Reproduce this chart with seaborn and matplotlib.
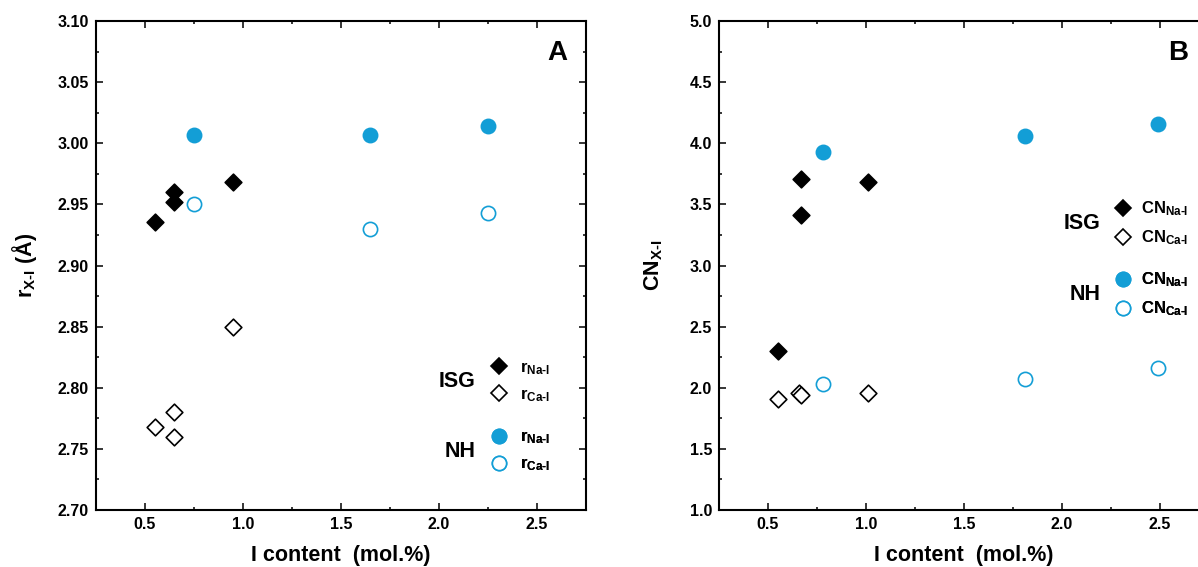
import pandas as pd
import matplotlib
matplotlib.use('Agg')
import matplotlib.pyplot as plt
from matplotlib.lines import Line2D
from matplotlib.ticker import MultipleLocator, FormatStrFormatter
import seaborn as sns

# Panel A: X-I distances (Angstrom) vs I content (mol.%)
isg_x_a = [0.55, 0.65, 0.65, 0.95]
isg_na_r = [2.936, 2.960, 2.952, 2.968]
isg_ca_x_a = [0.55, 0.65, 0.65, 0.95]
isg_ca_r = [2.768, 2.780, 2.760, 2.850]
nh_x_a = [0.75, 1.65, 2.25]
nh_na_r = [3.007, 3.007, 3.014]
nh_ca_r = [2.950, 2.930, 2.943]

# Panel B: coordination numbers
isg_x_b = [0.55, 0.67, 0.67, 1.01]
isg_na_cn = [2.30, 3.71, 3.41, 3.68]
isg_ca_x_b = [0.55, 0.66, 0.67, 1.01]
isg_ca_cn = [1.91, 1.96, 1.94, 1.96]
nh_x_b = [0.78, 1.81, 2.49]
nh_na_cn = [3.93, 4.06, 4.16]
nh_ca_cn = [2.03, 2.07, 2.16]

BLUE = '#139ed6'

sns.set_theme(style='ticks')
plt.rcParams['font.family'] = ['Liberation Sans', 'DejaVu Sans']
plt.rcParams['font.weight'] = 'bold'
plt.rcParams['mathtext.fontset'] = 'custom'
plt.rcParams['mathtext.rm'] = 'Liberation Sans:bold'
plt.rcParams['mathtext.it'] = 'Liberation Sans:bold'
plt.rcParams['mathtext.bf'] = 'Liberation Sans:bold'
for key in ('text.color', 'axes.labelcolor', 'xtick.color', 'ytick.color', 'axes.edgecolor'):
    plt.rcParams[key] = 'black'

fig = plt.figure(figsize=(11.98, 5.67), dpi=100)
ax_a = fig.add_axes([0.0801, 0.1005, 0.409, 0.8624])
ax_b = fig.add_axes([0.6002, 0.1005, 0.409, 0.8624])

DS = 72   # diamond size
CS = 105  # circle size


def draw(ax, series):
    for x, y, marker, face, edge, size in series:
        sns.scatterplot(x=x, y=y, ax=ax, marker=marker, s=size,
                        color=face, edgecolor=edge, linewidth=1.2, zorder=3)


draw(ax_a, [
    (isg_x_a, isg_na_r, 'D', 'black', 'black', DS),
    (isg_ca_x_a, isg_ca_r, 'D', 'white', 'black', DS),
    (nh_x_a, nh_na_r, 'o', BLUE, BLUE, CS),
    (nh_x_a, nh_ca_r, 'o', 'white', BLUE, CS),
])
draw(ax_b, [
    (isg_x_b, isg_na_cn, 'D', 'black', 'black', DS),
    (isg_ca_x_b, isg_ca_cn, 'D', 'white', 'black', DS),
    (nh_x_b, nh_na_cn, 'o', BLUE, BLUE, CS),
    (nh_x_b, nh_ca_cn, 'o', 'white', BLUE, CS),
])

ax_a.set_ylim(2.70, 3.10)
ax_a.yaxis.set_major_locator(MultipleLocator(0.05))
ax_a.yaxis.set_minor_locator(MultipleLocator(0.025))
ax_a.yaxis.set_major_formatter(FormatStrFormatter('%.2f'))
ax_b.set_ylim(1.0, 5.0)
ax_b.yaxis.set_major_locator(MultipleLocator(0.5))
ax_b.yaxis.set_minor_locator(MultipleLocator(0.25))
ax_b.yaxis.set_major_formatter(FormatStrFormatter('%.1f'))

for ax in (ax_a, ax_b):
    ax.set_xlim(0.25, 2.75)
    ax.xaxis.set_major_locator(MultipleLocator(0.5))
    ax.xaxis.set_minor_locator(MultipleLocator(0.25))
    ax.xaxis.set_major_formatter(FormatStrFormatter('%.1f'))
    ax.tick_params(which='both', direction='in', top=True, right=True,
                   labelsize=11.5, width=1.1, color='black', labelcolor='black')
    ax.tick_params(which='major', length=5, pad=5)
    ax.tick_params(which='minor', length=2.5)
    for lbl in ax.get_xticklabels() + ax.get_yticklabels():
        lbl.set_fontweight('bold')
    for sp in ax.spines.values():
        sp.set_linewidth(1.5)
        sp.set_color('black')
    ax.set_xlabel('I content  (mol.%)', fontsize=15.5, fontweight='bold')
    ax.xaxis.set_label_coords(0.5, -0.071)

ax_a.set_ylabel(r'r$_{\text{X-I}}$ (Å)', fontsize=15.5, fontweight='bold')
ax_a.yaxis.set_label_coords(-0.116, 0.5)
ax_b.set_ylabel(r'CN$_{\text{X-I}}$', fontsize=15.5, fontweight='bold')
ax_b.yaxis.set_label_coords(-0.11, 0.5)

ax_a.text(0.942, 0.935, 'A', transform=ax_a.transAxes, fontsize=20,
          fontweight='bold', ha='center', va='center')
ax_b.text(0.937, 0.935, 'B', transform=ax_b.transAxes, fontsize=20,
          fontweight='bold', ha='center', va='center')


def group_legend(ax, prefix, anchor_x, isg_y, nh_y, text_x, textpad):
    isg_handles = [
        Line2D([], [], ls='', marker='D', markersize=DS ** 0.5,
               markerfacecolor='black', markeredgecolor='black', markeredgewidth=1.2),
        Line2D([], [], ls='', marker='D', markersize=DS ** 0.5,
               markerfacecolor='white', markeredgecolor='black', markeredgewidth=1.2),
    ]
    nh_handles = [
        Line2D([], [], ls='', marker='o', markersize=CS ** 0.5,
               markerfacecolor=BLUE, markeredgecolor=BLUE, markeredgewidth=1.2),
        Line2D([], [], ls='', marker='o', markersize=CS ** 0.5,
               markerfacecolor='white', markeredgecolor=BLUE, markeredgewidth=1.2),
    ]
    labels = [prefix + r'$_{\text{Na-I}}$', prefix + r'$_{\text{Ca-I}}$']
    for handles, y, name in ((isg_handles, isg_y, 'ISG'), (nh_handles, nh_y, 'NH')):
        leg = ax.legend(handles, labels, loc='center left', bbox_to_anchor=(anchor_x, y),
                        frameon=False, fontsize=12, handlelength=1.0,
                        handletextpad=textpad, labelspacing=0.6, borderpad=0,
                        borderaxespad=0)
        for t in leg.get_texts():
            t.set_fontweight('bold')
        ax.add_artist(leg)
        ax.text(text_x, y, name, transform=ax.transAxes, fontsize=15.5,
                fontweight='bold', ha='right', va='center')


group_legend(ax_a, 'r', 0.805, 0.262, 0.120, 0.775, 0.8)
group_legend(ax_b, 'CN', 0.8076, 0.586, 0.441, 0.778, 0.55)

fig.savefig('out.png', dpi=100, facecolor='white')
